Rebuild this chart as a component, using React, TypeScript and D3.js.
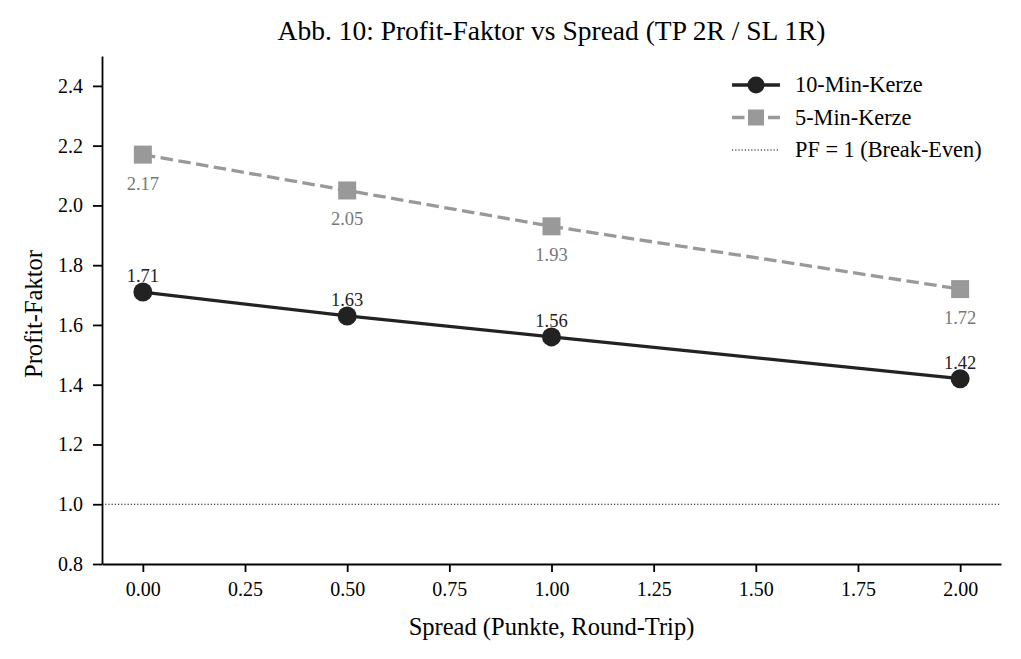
import React, { useEffect, useRef } from 'react';
import * as d3 from 'd3';

const spreads = [0, 0.5, 1.0, 2.0];
const pf10 = [1.71, 1.63, 1.56, 1.42];
const pf5 = [2.17, 2.05, 1.93, 1.72];
const xTicks = [0, 0.25, 0.5, 0.75, 1.0, 1.25, 1.5, 1.75, 2.0];
const yTicks = [0.8, 1.0, 1.2, 1.4, 1.6, 1.8, 2.0, 2.2, 2.4];
const legendLabels = ['10-Min-Kerze', '5-Min-Kerze', 'PF = 1 (Break-Even)'];

const W = 1021;
const H = 659;
const FONT = '"Liberation Serif", "DejaVu Serif", serif';
const DARK = '#222222';
const GRAY = '#999999';

const App: React.FC = () => {
  const ref = useRef<SVGSVGElement | null>(null);

  useEffect(() => {
    if (!ref.current) return;
    const svg = d3.select(ref.current);
    svg.selectAll('*').remove();

    const margin = { top: 56, right: 20, bottom: 95, left: 102 };
    const x = d3.scaleLinear().domain([-0.1, 2.1]).range([margin.left, W - margin.right]);
    const y = d3.scaleLinear().domain([0.8, 2.5]).range([H - margin.bottom, margin.top]);

    svg.append('rect').attr('width', W).attr('height', H).attr('fill', '#fff');

    // break-even line
    svg
      .append('line')
      .attr('x1', x(-0.1))
      .attr('x2', x(2.1))
      .attr('y1', y(1))
      .attr('y2', y(1))
      .attr('stroke', '#000')
      .attr('stroke-width', 1.2)
      .attr('stroke-dasharray', '1.2,2');

    const xAxis = d3
      .axisBottom(x)
      .tickValues(xTicks)
      .tickFormat(d3.format('.2f'))
      .tickSize(8)
      .tickPadding(10)
      .tickSizeOuter(0);
    const gx = svg
      .append('g')
      .attr('transform', `translate(0,${y(0.8)})`)
      .call(xAxis);
    gx.selectAll('text').style('font-family', FONT).style('font-size', '20px').attr('fill', '#000');
    gx.selectAll('line, path').attr('stroke', '#000').attr('stroke-width', 1.8);

    const yAxis = d3
      .axisLeft(y)
      .tickValues(yTicks)
      .tickFormat(d3.format('.1f'))
      .tickSize(9)
      .tickPadding(10)
      .tickSizeOuter(0);
    const gy = svg.append('g').attr('transform', `translate(${x(-0.1)},0)`).call(yAxis);
    gy.selectAll('text').style('font-family', FONT).style('font-size', '20px').attr('fill', '#000');
    gy.selectAll('line, path').attr('stroke', '#000').attr('stroke-width', 1.8);

    // titles
    svg
      .append('text')
      .attr('x', (x(-0.1) + x(2.1)) / 2)
      .attr('y', 40)
      .attr('text-anchor', 'middle')
      .style('font-family', FONT)
      .style('font-size', '27.5px')
      .text('Abb. 10: Profit-Faktor vs Spread (TP 2R / SL 1R)');
    svg
      .append('text')
      .attr('x', (x(-0.1) + x(2.1)) / 2)
      .attr('y', 635)
      .attr('text-anchor', 'middle')
      .style('font-family', FONT)
      .style('font-size', '24.5px')
      .text('Spread (Punkte, Round-Trip)');
    svg
      .append('text')
      .attr('transform', `translate(42,${(y(0.8) + y(2.5)) / 2 + 4}) rotate(-90)`)
      .attr('text-anchor', 'middle')
      .style('font-family', FONT)
      .style('font-size', '24.5px')
      .text('Profit-Faktor');

    const line = d3
      .line<number>()
      .x((_, i) => x(spreads[i]))
      .y((d) => y(d));

    // 5-min series
    svg
      .append('path')
      .datum(pf5)
      .attr('d', line)
      .attr('fill', 'none')
      .attr('stroke', GRAY)
      .attr('stroke-width', 3.3)
      .attr('stroke-dasharray', '12.5,5.5');
    svg
      .selectAll('.sq')
      .data(pf5)
      .enter()
      .append('rect')
      .attr('x', (_, i) => x(spreads[i]) - 9)
      .attr('y', (d) => y(d) - 9)
      .attr('width', 18)
      .attr('height', 18)
      .attr('fill', GRAY);
    svg
      .selectAll('.lbl5')
      .data(pf5)
      .enter()
      .append('text')
      .attr('x', (_, i) => x(spreads[i]))
      .attr('y', (d) => y(d) + 35)
      .attr('text-anchor', 'middle')
      .style('font-family', FONT)
      .style('font-size', '18.5px')
      .attr('fill', '#777')
      .text((d) => d.toFixed(2));

    // 10-min series
    svg
      .append('path')
      .datum(pf10)
      .attr('d', line)
      .attr('fill', 'none')
      .attr('stroke', DARK)
      .attr('stroke-width', 3.3);
    svg
      .selectAll('.dot')
      .data(pf10)
      .enter()
      .append('circle')
      .attr('cx', (_, i) => x(spreads[i]))
      .attr('cy', (d) => y(d))
      .attr('r', 9.5)
      .attr('fill', DARK);
    svg
      .selectAll('.lbl10')
      .data(pf10)
      .enter()
      .append('text')
      .attr('x', (_, i) => x(spreads[i]))
      .attr('y', (d) => y(d) - 10)
      .attr('text-anchor', 'middle')
      .style('font-family', FONT)
      .style('font-size', '18.5px')
      .attr('fill', DARK)
      .text((d) => d.toFixed(2));

    // legend
    const lg = svg.append('g').attr('transform', 'translate(732,85)');
    const rowH = 32.5;
    legendLabels.forEach((label, i) => {
      const g = lg.append('g').attr('transform', `translate(0,${i * rowH})`);
      if (i === 0) {
        g.append('line').attr('x1', 0).attr('x2', 48).attr('stroke', DARK).attr('stroke-width', 3.3);
        g.append('circle').attr('cx', 24).attr('r', 8.5).attr('fill', DARK);
      } else if (i === 1) {
        g.append('line')
          .attr('x1', 0)
          .attr('x2', 48)
          .attr('stroke', GRAY)
          .attr('stroke-width', 3.3)
          .attr('stroke-dasharray', '12.5,5.5');
        g.append('rect').attr('x', 16).attr('y', -8).attr('width', 16).attr('height', 16).attr('fill', GRAY);
      } else {
        g.append('line')
          .attr('x1', 0)
          .attr('x2', 48)
          .attr('stroke', '#000')
          .attr('stroke-width', 1.2)
          .attr('stroke-dasharray', '1.2,2');
      }
      g.append('text')
        .attr('x', 63)
        .attr('y', 7)
        .style('font-family', FONT)
        .style('font-size', '22.3px')
        .attr('fill', '#000')
        .text(label);
    });
  }, []);

  return <svg ref={ref} width={W} height={H} style={{ display: 'block', position: 'absolute', left: 0, top: 0 }} />;
};

export default App;
